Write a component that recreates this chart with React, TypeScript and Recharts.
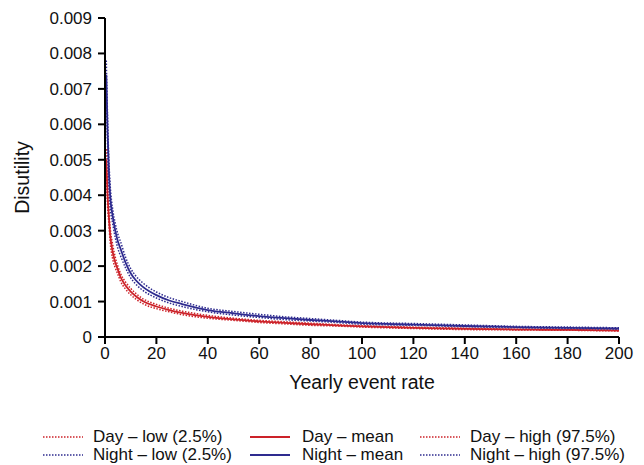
import React from "react";
import { LineChart, Line, XAxis, YAxis } from "recharts";

const xs = [0.5, 1, 1.5, 2, 3, 4, 5, 6, 8, 10, 12, 15, 20, 25, 30, 40, 50, 60, 70, 80, 90, 100, 120, 140, 160, 180, 200];

const dayLow = [0.0047, 0.0037, 0.0032, 0.0027, 0.0022, 0.00195, 0.00177, 0.00158, 0.00135, 0.00119, 0.00107, 0.00093, 0.0008, 0.00071, 0.00063, 0.00053, 0.00047, 0.00041, 0.00037, 0.00033, 0.00031, 0.00028, 0.00024, 0.00021, 0.0002, 0.00019, 0.00017];
const dayMean = [0.005, 0.004, 0.0034, 0.0029, 0.0024, 0.0021, 0.0019, 0.0017, 0.00145, 0.00128, 0.00115, 0.001, 0.00086, 0.00076, 0.00068, 0.00057, 0.0005, 0.00044, 0.0004, 0.00036, 0.00033, 0.0003, 0.00026, 0.00023, 0.00021, 0.0002, 0.00018];
const dayHigh = [0.0053, 0.0043, 0.0036, 0.0031, 0.0026, 0.00225, 0.002, 0.0018, 0.00155, 0.00137, 0.00123, 0.00107, 0.00092, 0.00081, 0.00073, 0.00061, 0.00053, 0.00047, 0.00043, 0.00039, 0.00035, 0.00032, 0.00028, 0.00025, 0.00022, 0.00021, 0.00019];
const nightLow = [0.007, 0.0054, 0.0044, 0.0037, 0.0032, 0.0028, 0.0025, 0.0023, 0.00195, 0.00167, 0.00149, 0.0013, 0.0011, 0.00096, 0.00086, 0.00071, 0.00062, 0.00055, 0.00049, 0.00045, 0.00041, 0.00036, 0.00033, 0.00029, 0.00026, 0.00024, 0.00022];
const nightMean = [0.0074, 0.0058, 0.0047, 0.004, 0.0034, 0.003, 0.0027, 0.0025, 0.0021, 0.0018, 0.0016, 0.0014, 0.00118, 0.00103, 0.00093, 0.00076, 0.00067, 0.00059, 0.00053, 0.00048, 0.00044, 0.00039, 0.00035, 0.00031, 0.00028, 0.00026, 0.00024];
const nightHigh = [0.0078, 0.0062, 0.005, 0.0043, 0.0036, 0.0032, 0.0029, 0.0027, 0.00225, 0.00193, 0.00172, 0.00151, 0.00127, 0.00111, 0.001, 0.00081, 0.00072, 0.00064, 0.00057, 0.00052, 0.00047, 0.00042, 0.00038, 0.00034, 0.0003, 0.00028, 0.00026];

const xTicks = [0, 20, 40, 60, 80, 100, 120, 140, 160, 180, 200];
const yTicks = [0, 0.001, 0.002, 0.003, 0.004, 0.005, 0.006, 0.007, 0.008, 0.009];

const RED = "#cc2229";
const BLUE = "#2e2b8f";
const FONT = "'Liberation Sans', Arial, Helvetica, sans-serif";

// legend order follows the reference (row by row)
const series = [
  { key: "dayLow", name: "Day \u2013 low (2.5%)", color: RED, dotted: true, values: dayLow },
  { key: "dayMean", name: "Day \u2013 mean", color: RED, dotted: false, values: dayMean },
  { key: "dayHigh", name: "Day \u2013 high (97.5%)", color: RED, dotted: true, values: dayHigh },
  { key: "nightLow", name: "Night \u2013 low (2.5%)", color: BLUE, dotted: true, values: nightLow },
  { key: "nightMean", name: "Night \u2013 mean", color: BLUE, dotted: false, values: nightMean },
  { key: "nightHigh", name: "Night \u2013 high (97.5%)", color: BLUE, dotted: true, values: nightHigh },
];

const data = xs.map((x, i) => {
  const row: Record<string, number> = { x };
  series.forEach((s) => {
    row[s.key] = s.values[i];
  });
  return row;
});

const legendCols = [43, 250, 420];
const legendRows = [437, 455];

function LegendBox() {
  return (
    <>
      {series.map((s, i) => {
        const left = legendCols[i % 3];
        const top = legendRows[Math.floor(i / 3)];
        return (
          <div
            key={s.key}
            style={{
              position: "absolute",
              left,
              top: top - 9,
              height: 18,
              lineHeight: "18px",
              display: "flex",
              alignItems: "center",
              fontFamily: FONT,
              fontSize: 17,
              color: "#111",
              whiteSpace: "nowrap",
            }}
          >
            <svg width={40} height={4} style={{ marginRight: i % 3 === 1 ? 12 : 10 }}>
              <line
                x1={0}
                y1={2}
                x2={40}
                y2={2}
                stroke={s.color}
                strokeWidth={s.dotted ? 1.5 : 2}
                strokeDasharray={s.dotted ? "1.5 1.5" : undefined}
              />
            </svg>
            {s.name}
          </div>
        );
      })}
    </>
  );
}

export default function App() {
  return (
    <div style={{ position: "absolute", left: 0, top: 0, width: 644, height: 465, background: "#fff", overflow: "hidden" }}>
      <LineChart
        width={644}
        height={465}
        data={data}
        margin={{ top: 18, right: 25, bottom: 72, left: 0 }}
      >
        <XAxis
          dataKey="x"
          type="number"
          domain={[0, 200]}
          ticks={xTicks}
          interval={0}
          height={56}
          stroke="#000"
          axisLine={{ stroke: "#000", strokeWidth: 2 }}
          tickLine={{ stroke: "#000", strokeWidth: 2 }}
          tickSize={7}
          tickMargin={3}
          tick={{ fill: "#111", fontSize: 17, fontFamily: FONT }}
          label={{
            value: "Yearly event rate",
            position: "insideBottom",
            offset: 4,
            style: { fill: "#111", fontSize: 19.5, fontFamily: FONT },
          }}
        />
        <YAxis
          type="number"
          domain={[0, 0.009]}
          ticks={yTicks}
          interval={0}
          width={105}
          stroke="#000"
          axisLine={{ stroke: "#000", strokeWidth: 2 }}
          tickLine={{ stroke: "#000", strokeWidth: 2 }}
          tickSize={7}
          tickMargin={6}
          tick={{ fill: "#111", fontSize: 17, fontFamily: FONT }}
          tickFormatter={(v: number) => (v === 0 ? "0" : v.toFixed(3))}
          label={{
            value: "Disutility",
            angle: -90,
            position: "insideLeft",
            offset: 0,
            dx: 22,
            style: { fill: "#111", fontSize: 19.5, fontFamily: FONT, textAnchor: "middle" },
          }}
        />
        {series.map((s) => (
          <Line
            key={s.key}
            dataKey={s.key}
            name={s.name}
            type="monotone"
            stroke={s.color}
            strokeWidth={s.dotted ? 1.5 : 1.8}
            strokeDasharray={s.dotted ? "1.5 1.5" : undefined}
            dot={false}
            activeDot={false}
            isAnimationActive={false}
          />
        ))}
      </LineChart>
      <LegendBox />
    </div>
  );
}
